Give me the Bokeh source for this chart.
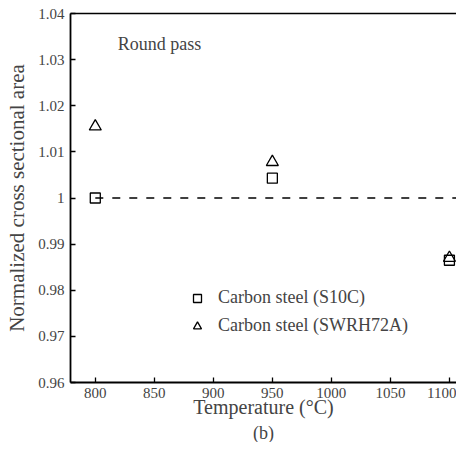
from bokeh.plotting import figure
from bokeh.models import FixedTicker, Legend, LegendItem, LinearAxis, Title, Label
from bokeh.embed import file_html
from bokeh.resources import INLINE

temp_s10c = [800, 950, 1100]
area_s10c = [1.0, 1.0043, 0.9865]
temp_swrh = [800, 950, 1100]
area_swrh = [1.0155, 1.0078, 0.9870]
ref_x = [800, 1106]
ref_y = [1.0, 1.0]
yticks = [0.96, 0.97, 0.98, 0.99, 1.0, 1.01, 1.02, 1.03, 1.04]
ylabels = ["0.96", "0.97", "0.98", "0.99", "1", "1.01", "1.02", "1.03", "1.04"]
xticks = [800, 850, 900, 950, 1000, 1050, 1100]

FONT = "Liberation Serif"

p = figure(width=456, height=442, output_backend="svg", toolbar_location=None,
           x_range=(779, 1106), y_range=(0.96, 1.04),
           min_border_left=70, min_border_top=13, min_border_right=0, min_border_bottom=0)
p.grid.visible = False
p.outline_line_color = None
p.background_fill_color = "white"

p.line(ref_x, ref_y, line_color="black", line_width=1.5, line_dash="8 9")
r1 = p.scatter(temp_s10c, area_s10c, marker="square", size=10, fill_color=None,
               line_color="black", line_width=1.3)
r2 = p.scatter(temp_swrh, area_swrh, marker="triangle", size=12, fill_color=None,
               line_color="black", line_width=1.3)

for ax in (p.xaxis[0], p.yaxis[0]):
    ax.major_tick_in = 5
    ax.major_tick_out = 0
    ax.minor_tick_line_color = None
    ax.axis_line_width = 1.8
    ax.major_tick_line_width = 1.3
    ax.major_label_text_font = FONT
    ax.major_label_text_font_size = "15px"
    ax.axis_label_text_font = FONT
    ax.axis_label_text_font_style = "normal"

p.xaxis.axis_label_text_font_size = "20px"
p.yaxis.axis_label_text_font_size = "21px"
p.xaxis.ticker = FixedTicker(ticks=xticks)
p.yaxis.ticker = FixedTicker(ticks=yticks)
p.yaxis.major_label_overrides = {t: l for t, l in zip(yticks, ylabels)}
p.xaxis.axis_label = "Temperature (°C)"
p.yaxis.axis_label = "Normalized cross sectional area"
p.xaxis.axis_label_standoff = -5
p.xaxis.major_label_standoff = 5
p.yaxis.axis_label_standoff = 6
p.yaxis.major_label_standoff = 6

top = LinearAxis(major_tick_line_color=None, minor_tick_line_color=None,
                 major_label_text_font_size="0px", axis_line_width=1.5)
top.ticker = FixedTicker(ticks=[])
p.add_layout(top, "above")

p.add_layout(Title(text="(b)", align="center", text_font=FONT, text_font_size="18px",
                   text_font_style="normal", standoff=0), "below")

p.add_layout(Label(x=819, y=1.0333, text="Round pass", text_baseline="middle",
                   text_font=FONT, text_font_size="18px"))

legend = Legend(items=[LegendItem(label="Carbon steel (S10C)", renderers=[r1]),
                       LegendItem(label="Carbon steel (SWRH72A)", renderers=[r2])],
                location=(117, 46), border_line_color=None, background_fill_alpha=0,
                label_text_font=FONT, label_text_font_size="18px", spacing=7,
                glyph_width=20, glyph_height=20, label_standoff=11, padding=0, margin=0)
p.add_layout(legend, "center")

open("out.html", "w").write(file_html(p, INLINE))
